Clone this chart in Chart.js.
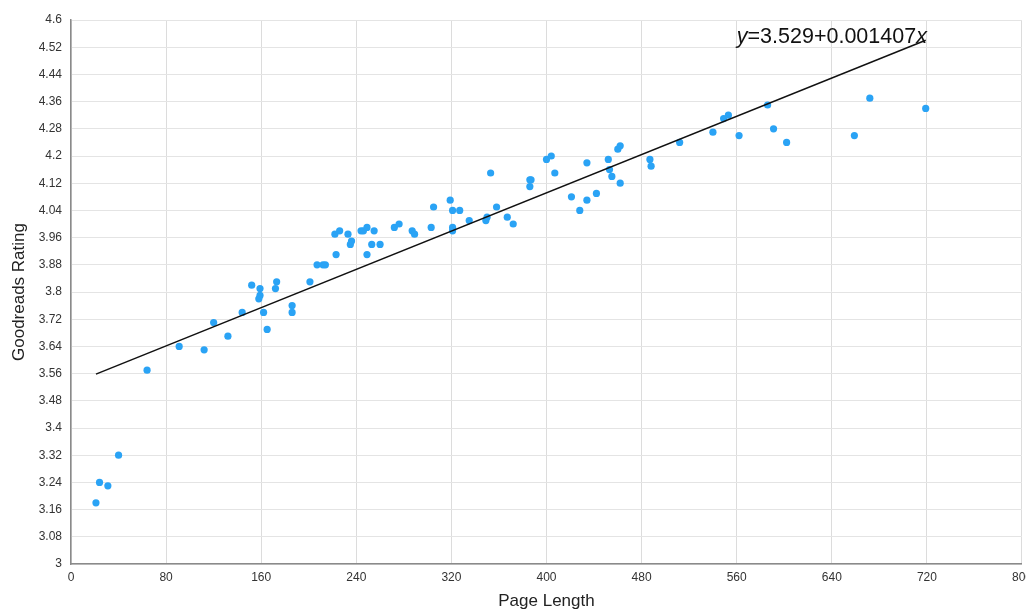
<!DOCTYPE html>
<html>
<head>
<meta charset="utf-8">
<script src="https://cdn.jsdelivr.net/npm/chart.js@4.4.1/dist/chart.umd.min.js"></script>
<style>
  html, body { margin: 0; padding: 0; background: #ffffff; overflow: hidden; }
  #wrap { width: 1026px; height: 612px; overflow: hidden; position: relative; }
  #c { position: absolute; left: 0; top: 0; width: 1038px; height: 612px; }
</style>
</head>
<body>
<div id="wrap"><canvas id="c" width="1038" height="612"></canvas></div>
<script>
// Page length of each book (x) and its Goodreads rating (y)
const pageLength = [
  21, 24, 31, 40, 64, 91, 112, 120, 132, 144,
  152, 159, 159, 158, 162, 165, 172, 173, 186, 186,
  201, 207, 212, 214, 223, 222, 226, 233, 236, 235,
  244, 246, 249, 249, 255, 253, 260, 272, 276, 287,
  289, 303, 305, 319, 321, 327, 321, 321, 335, 349,
  350, 353, 358, 367, 372, 386, 387, 386, 400, 404,
  407, 421, 428, 434, 434, 442, 452, 453, 455, 460,
  462, 462, 487, 488, 512, 540, 549, 553, 562, 586,
  591, 602, 659, 672, 719
];
const rating = [
  3.18, 3.24, 3.23, 3.32, 3.57, 3.64, 3.63, 3.71, 3.67, 3.74,
  3.82, 3.81, 3.79, 3.78, 3.74, 3.69, 3.81, 3.83, 3.76, 3.74,
  3.83, 3.88, 3.88, 3.88, 3.91, 3.97, 3.98, 3.97, 3.95, 3.94,
  3.98, 3.98, 3.99, 3.91, 3.98, 3.94, 3.94, 3.99, 4.00, 3.98,
  3.97, 3.99, 4.05, 4.07, 4.04, 4.04, 3.99, 3.98, 4.01, 4.01,
  4.02, 4.15, 4.05, 4.02, 4.00, 4.13, 4.13, 4.11, 4.19, 4.20,
  4.15, 4.08, 4.04, 4.07, 4.18, 4.09, 4.19, 4.16, 4.14, 4.22,
  4.23, 4.12, 4.19, 4.17, 4.24, 4.27, 4.31, 4.32, 4.26, 4.35,
  4.28, 4.24, 4.26, 4.37, 4.34
];
// Trend line coefficients shown on the chart
const trendIntercept = 3.529;
const trendSlope = 0.001407;
const trendLabelX = 720;
const trendLabelY = 4.531;
// Axis settings
const xTicks = { min: 0, max: 800, step: 80 };
const yTicks = { min: 3, max: 4.6, step: 0.08 };
const xTitle = 'Page Length';
const yTitle = 'Goodreads Rating';

const points = pageLength.map((x, i) => ({ x: x, y: rating[i] }));
const xMin = Math.min(...pageLength);
const xMax = Math.max(...pageLength);
const trend = [
  { x: xMin, y: trendIntercept + trendSlope * xMin },
  { x: xMax, y: trendIntercept + trendSlope * xMax }
];

const FONT = '"Liberation Sans", Arial, Helvetica, sans-serif';

const equationPlugin = {
  id: 'equation',
  afterDatasetsDraw(chart) {
    const ctx = chart.ctx;
    const xs = chart.scales.x, ys = chart.scales.y;
    const right = xs.getPixelForValue(trendLabelX);
    const base = ys.getPixelForValue(trendLabelY);
    const parts = [
      { t: 'y', it: true },
      { t: '=' + trendIntercept.toFixed(3) + '+' + trendSlope.toFixed(6), it: false },
      { t: 'x', it: true }
    ];
    const size = 21.5;
    let total = 0;
    parts.forEach(p => {
      ctx.font = (p.it ? 'italic ' : '') + size + 'px ' + FONT;
      p.w = ctx.measureText(p.t).width;
      total += p.w;
    });
    ctx.save();
    ctx.fillStyle = '#111111';
    ctx.textBaseline = 'alphabetic';
    ctx.textAlign = 'left';
    let x = right - total;
    parts.forEach(p => {
      ctx.font = (p.it ? 'italic ' : '') + size + 'px ' + FONT;
      ctx.fillText(p.t, x, base);
      x += p.w;
    });
    ctx.restore();
  }
};

new Chart(document.getElementById('c'), {
  type: 'scatter',
  data: {
    datasets: [
      {
        label: 'Books',
        data: points,
        backgroundColor: '#2aa3f5',
        borderWidth: 0,
        pointRadius: 3.6,
        pointHoverRadius: 3.6,
        order: 2
      },
      {
        label: 'Trend',
        type: 'line',
        data: trend,
        borderColor: '#111111',
        borderWidth: 1.5,
        pointRadius: 0,
        fill: false,
        order: 1
      }
    ]
  },
  options: {
    responsive: false,
    maintainAspectRatio: false,
    devicePixelRatio: 1,
    animation: false,
    layout: { padding: { top: 20, right: 11, left: 0, bottom: 0 } },
    plugins: {
      legend: { display: false },
      tooltip: { enabled: false }
    },
    scales: {
      x: {
        type: 'linear',
        min: xTicks.min,
        max: xTicks.max,
        ticks: {
          stepSize: xTicks.step,
          padding: 6,
          color: '#333333',
          font: { family: FONT, size: 12 }
        },
        grid: { color: '#dcdcdc', lineWidth: 1, drawTicks: false },
        border: { color: '#8a8a8a', width: 1.5 },
        title: {
          display: true,
          text: xTitle,
          color: '#222222',
          font: { family: FONT, size: 17 },
          padding: { top: 0, bottom: 0 }
        },
        afterFit(s) { s.height = 48; }
      },
      y: {
        type: 'linear',
        min: yTicks.min,
        max: yTicks.max,
        ticks: {
          stepSize: yTicks.step,
          padding: 9,
          color: '#333333',
          font: { family: FONT, size: 12 },
          callback: v => String(Number(v.toFixed(2)))
        },
        grid: { color: '#e4e4e4', lineWidth: 1, drawTicks: false },
        border: { color: '#8a8a8a', width: 1.5 },
        title: {
          display: true,
          text: yTitle,
          color: '#222222',
          font: { family: FONT, size: 17 },
          padding: { top: 9, bottom: 0 }
        },
        afterFit(s) { s.width = 71; }
      }
    }
  },
  plugins: [equationPlugin]
});
</script>
</body>
</html>
